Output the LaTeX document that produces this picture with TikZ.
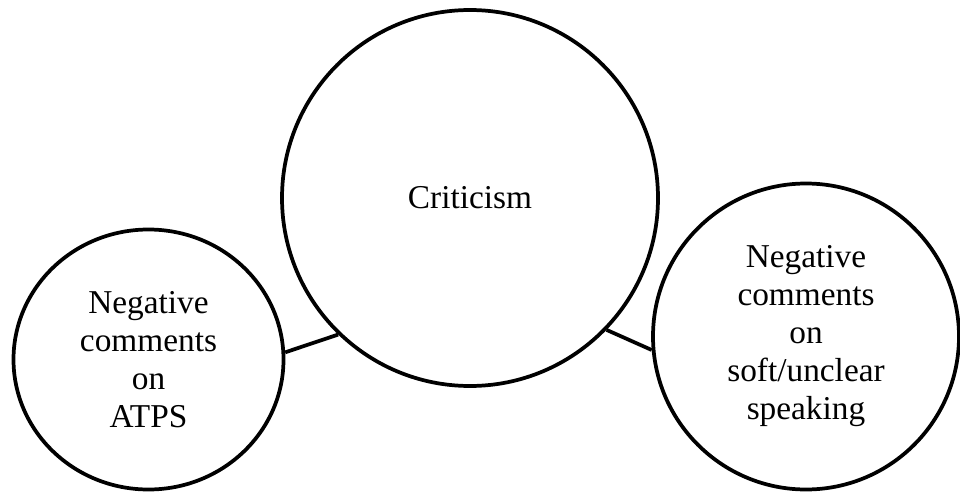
\documentclass[tikz,border=0pt]{standalone}
\usepackage{fontspec}
\setmainfont{Liberation Serif}
\usetikzlibrary{shapes.geometric}
\begin{document}
\begin{tikzpicture}[x=0.75pt,y=-0.75pt,
  bubble/.style={draw=black,line width=2.8pt,fill=white,inner sep=0pt,
    align=center,font=\fontsize{25pt}{28.5pt}\selectfont},
  link/.style={draw=black,line width=2.8pt}]
\useasboundingbox (0,0) rectangle (960,492);
\node[bubble,circle,minimum size=282pt] (crit) at (470,198) {Criticism};
\node[bubble,ellipse,minimum width=202.5pt,minimum height=195pt] (atps) at (148.5,359.5)
  {Negative\\comments\\on\\ATPS};
\node[bubble,circle,minimum size=229.5pt] (soft) at (806,336.5)
  {Negative\\comments\\on\\soft/unclear\\speaking};
\draw[link] (atps.3) -- (crit.226);
\draw[link] (crit.316) -- (soft.185);
\end{tikzpicture}
\end{document}
